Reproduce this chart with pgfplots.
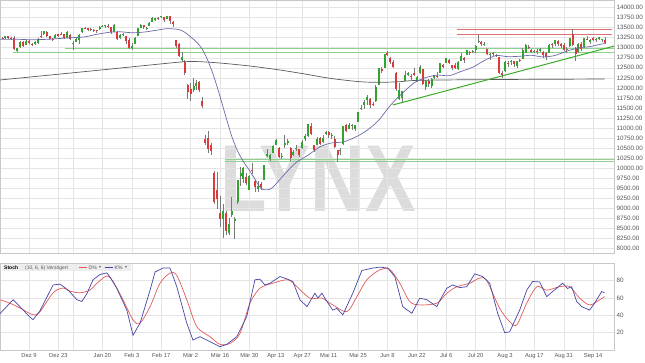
\documentclass[border=0pt]{standalone}
\usepackage{pgfplots}
\pgfplotsset{compat=1.18}
\usepackage{pgfplotstable}
\usepackage{fontspec}
\setmainfont{Liberation Sans}
\newfontfamily\symfont{DejaVu Sans}

\definecolor{upc}{HTML}{2FA52F}
\definecolor{dnc}{HTML}{DC3A3A}
\definecolor{wick}{HTML}{7A7A7A}
\definecolor{gridc}{HTML}{E4E4E4}
\definecolor{framec}{HTML}{C8C8C8}
\definecolor{smac}{HTML}{6A6AA8}
\definecolor{ma200}{HTML}{5A5A5A}
\definecolor{levelg}{HTML}{8FD08F}
\definecolor{trendg}{HTML}{3DAA2A}
\definecolor{levelr}{HTML}{E07070}
\definecolor{kline}{HTML}{4545A5}
\definecolor{dline}{HTML}{E25A5A}
\definecolor{labelc}{HTML}{555555}
\definecolor{wm}{HTML}{DCDCDC}

% daily candles (trading-day index, open, high, low, close), rising days
\pgfplotstableread{
i o h l c
-8 13240 13300 13220 13287
-4 12920 13000 12888 12989
-3 13010 13160 13000 13140
-1 13070 13200 13060 13166
2 13080 13160 13060 13141
3 13120 13230 13100 13222
5 13330 13425 13320 13407
9 13240 13330 13230 13319
13 13250 13410 13240 13386
15 13090 13160 12950 13127
16 13150 13250 13140 13227
17 13200 13340 13100 13321
18 13380 13500 13370 13495
24 13460 13530 13450 13526
25 13530 13560 13510 13549
26 13530 13570 13490 13556
29 13400 13590 13390 13577
31 13230 13330 13210 13324
32 13330 13375 13300 13345
35 13000 13110 12950 13045
36 13100 13260 13080 13250
37 13300 13490 13290 13479
38 13500 13580 13490 13575
40 13480 13505 13450 13494
41 13540 13640 13530 13627
42 13640 13755 13630 13750
43 13700 13750 13660 13745
45 13760 13790 13740 13783
47 13720 13795 13715 13789
52 12700 12890 12650 12775
56 11940 12240 11900 12039
57 12040 12200 11950 12128
66 8740 9120 8255 8939
68 8400 8770 8350 8610
69 8840 9280 8800 8929
70 8700 8790 8250 8742
71 9170 9710 9120 9701
72 9800 10030 9550 9874
73 9740 10040 9640 10000
75 9470 9830 9460 9816
78 9480 9690 9420 9571
80 9720 10080 9700 10075
81 10300 10480 10270 10356
82 10240 10350 10170 10333
83 10380 10570 10370 10565
84 10580 10720 10570 10697
86 10270 10380 10220 10301
87 10570 10820 10500 10626
88 10630 10730 10570 10676
90 10330 10450 10300 10416
91 10470 10570 10430 10514
93 10500 10700 10470 10659
94 10720 10860 10680 10796
95 10800 11110 10790 11108
98 10580 10780 10570 10730
100 10650 10820 10640 10759
101 10850 10920 10820 10905
103 10810 10880 10740 10820
106 10420 10500 10340 10465
107 10600 11060 10590 11058
109 10990 11120 10980 11075
110 11060 11100 10950 11066
111 10990 11080 10930 11074
112 11160 11400 11150 11391
113 11470 11580 11460 11504
114 11570 11700 11480 11657
115 11700 11820 11580 11781
118 11680 12060 11660 12021
119 12080 12490 12070 12487
121 12500 12850 12490 12848
126 11730 12130 11700 11949
127 11750 11920 11630 11911
128 12170 12430 12160 12315
129 12330 12400 12300 12382
132 12200 12290 12140 12262
133 12360 12560 12350 12523
135 12030 12190 11940 12178
137 12050 12240 11990 12232
138 12240 12330 12230 12311
140 12370 12620 12360 12608
142 12620 12750 12610 12734
146 12480 12660 12450 12633
147 12680 12860 12670 12800
149 12830 12940 12820 12931
151 12910 12950 12870 12920
152 12950 13060 12870 13046
153 13130 13310 13120 13171
155 13080 13150 13050 13103
157 12810 12860 12700 12839
159 12800 12850 12760 12822
162 12420 12670 12400 12647
164 12650 12700 12580 12660
166 12540 12680 12490 12674
168 12730 13000 12720 12947
169 12880 13080 12870 13058
172 12900 12950 12870 12920
174 12910 13000 12890 12977
177 12880 13090 12870 13067
179 13080 13200 13050 13190
183 12950 13020 12860 12974
184 13040 13250 13020 13243
187 12900 13110 12880 13100
189 13030 13250 12990 13237
191 13140 13220 13080 13203
193 13180 13240 13130 13218
194 13220 13270 13180 13255
195 13200 13220 13130 13208
}\upcandles

% falling days
\pgfplotstableread{
i o h l c
-9 13250 13270 13205 13236
-7 13280 13300 13225 13245
-6 13250 13265 13180 13236
-5 13250 13280 12960 12965
-2 13140 13155 13045 13055
0 13170 13190 13090 13105
1 13095 13110 13040 13071
4 13300 13425 13230 13283
6 13400 13410 13270 13288
7 13290 13300 13200 13222
8 13215 13240 13170 13212
10 13330 13335 13285 13300
11 13340 13395 13325 13337
12 13340 13345 13240 13249
14 13315 13330 13190 13219
19 13500 13520 13460 13483
20 13490 13495 13420 13452
21 13460 13480 13420 13457
22 13440 13460 13380 13432
23 13440 13450 13370 13430
27 13540 13590 13500 13515
28 13510 13520 13330 13389
30 13400 13410 13180 13205
33 13290 13300 13100 13158
34 13200 13235 12970 12982
39 13560 13565 13470 13514
44 13750 13770 13700 13745
46 13760 13770 13640 13681
48 13780 13800 13600 13665
49 13650 13660 13520 13579
50 13190 13200 13000 13035
51 13080 13120 12770 12790
53 12650 12700 12330 12367
54 12080 12100 11725 11890
55 11970 12120 11670 11857
58 12150 12170 11900 11944
59 11680 11780 11500 11542
60 10740 10830 10580 10625
61 10760 10940 10370 10475
62 10570 10620 10320 10439
63 9880 9940 9120 9161
64 9450 9920 9000 9232
65 8900 9300 8550 8742
67 8900 8950 8340 8442
74 9780 9880 9580 9633
76 9960 10120 9870 9936
77 9690 9700 9410 9544
79 9610 9650 9450 9525
85 10500 10530 10250 10280
89 10500 10520 10190 10250
92 10470 10480 10280 10336
96 11050 11120 10840 10862
97 10570 10580 10400 10467
99 10760 10770 10580 10606
102 10910 10940 10760 10825
104 10730 10810 10500 10542
105 10450 10460 10160 10338
108 11080 11090 10900 10939
116 11720 11760 11500 11587
117 11600 11650 11550 11586
120 12460 12530 12360 12431
122 12880 12910 12800 12820
123 12750 12760 12600 12642
124 12640 12700 12500 12530
125 12380 12400 11930 11970
130 12300 12340 12190 12281
131 12380 12500 12300 12331
134 12460 12480 12070 12094
136 12160 12210 12030 12089
139 12300 12400 12240 12260
141 12580 12600 12490 12528
143 12700 12720 12590 12617
144 12570 12580 12440 12495
145 12560 12630 12470 12489
148 12740 12760 12620 12697
150 12890 12930 12830 12875
154 13150 13160 13050 13104
156 12960 12980 12810 12838
158 12860 12890 12800 12836
160 12760 12770 12350 12379
161 12380 12430 12250 12313
163 12620 12660 12530 12601
165 12660 12680 12520 12592
167 12690 12730 12640 12687
170 13030 13060 12960 12994
171 12950 12960 12860 12901
173 12930 12960 12840 12882
175 12890 12910 12750 12830
176 12870 12890 12690 12764
178 13100 13110 13000 13062
180 13170 13200 13040 13096
181 13080 13110 13000 13033
182 13070 13120 12940 12945
185 13340 13460 13050 13057
186 13000 13020 12660 12842
188 13080 13130 12920 12968
190 13220 13300 13200 13209
192 13250 13270 13160 13194
196 13200 13260 13080 13116
}\downcandles

\pgfplotsset{
  chartpane/.style={
    scale only axis, width=614pt,
    xmin=-9.87, xmax=199.1,
    axis line style={draw=framec, line width=0.5pt},
    grid=major, grid style={draw=gridc, line width=0.5pt},
    tick style={draw=none},
    xtick={0,10,15,25,35,45,55,65,75,84,93,102,112,122,132,142,152,162,172,182,192},
    yticklabel pos=right,
    scaled y ticks=false,
    y tick label style={anchor=west, xshift=-1pt, font=\fontsize{6.3}{7}\selectfont, text=labelc},
    x tick label style={font=\fontsize{5.8}{7}\selectfont, text=labelc},
    /pgf/number format/assume math mode=true,
  },
  wicks/.style={draw=none, mark=none, forget plot,
    error bars/.cd, y dir=both, y explicit, error mark=none,
    error bar style={draw=wick, line width=0.5pt}},
  bodies/.style={draw=none, mark=none, forget plot,
    error bars/.cd, y dir=plus, y explicit, error mark=none,
    error bar style={draw=#1, line width=2pt}},
}

\begin{document}
\begin{tikzpicture}
% watermark behind the price pane
\node[text=wm, font=\fontsize{95}{95}\selectfont\bfseries, xscale=0.8, inner sep=0pt] at (318pt,-179pt) {LYNX};

\begin{axis}[chartpane, at={(0pt,0pt)}, anchor=north west, height=253pt,
  ymin=7893, ymax=14187, ytick={8000,8250,...,14000}, xticklabels={},
  y tick label style={/pgf/number format/.cd, fixed, fixed zerofill, precision=2, 1000 sep={}}]

% horizontal support / resistance levels
\addplot[levelg, line width=0.8pt] coordinates {(-5.4,12893) (199.1,12893)};
\addplot[levelg, line width=0.8pt] coordinates {(12.2,12975) (199.1,12975)};
\addplot[levelg, line width=0.8pt] coordinates {(66.7,10230) (199.1,10230)};
\addplot[levelg, line width=0.8pt] coordinates {(66.7,10160) (199.1,10160)};
\addplot[levelr, line width=0.8pt] coordinates {(145.8,13465) (198.3,13465)};
\addplot[levelr, line width=0.8pt] coordinates {(145.8,13333) (198.3,13333)};

% candles
\addplot[wicks] table[x=i, y=c, y error plus expr=\thisrow{h}-\thisrow{c}, y error minus expr=\thisrow{c}-\thisrow{l}] {\upcandles};
\addplot[wicks] table[x=i, y=c, y error plus expr=\thisrow{h}-\thisrow{c}, y error minus expr=\thisrow{c}-\thisrow{l}] {\downcandles};
\addplot[bodies=upc] table[x=i, y=o, y error plus expr=\thisrow{c}-\thisrow{o}] {\upcandles};
\addplot[bodies=dnc] table[x=i, y=c, y error plus expr=\thisrow{o}-\thisrow{c}] {\downcandles};

% 200-day average
\addplot[ma200, line width=0.7pt, smooth] coordinates {
(-9.87,12197) (21.4,12423) (41.2,12570) (53,12652) (58.2,12652) (65,12619)
(75.2,12545) (85.4,12445) (93.9,12346) (102.4,12239) (112.6,12154) (119.4,12139)
(126.2,12154) (133,12189) (160.2,12209) (195.9,12221)};

% 20-day average
\addplot[smac, line width=0.7pt, smooth] coordinates {
(-9.87,13209) (-5,13212) (0,13200) (5,13205) (10,13228) (15,13250) (19,13271)
(23,13332) (27,13380) (31,13396) (35,13373) (39,13388) (43,13430) (47,13473)
(51,13452) (53,13384) (55,13270) (57,13141) (59,12961) (61,12660) (63,12265)
(65,11788) (67,11283) (69,10798) (71,10429) (73,10166) (75,9951) (77,9716)
(79,9497) (81,9463) (83,9528) (87,9856) (91,10149) (95,10328) (99,10533)
(103,10632) (107,10657) (111,10772) (115,10943) (119,11194) (123,11566)
(127,11863) (131,12121) (135,12257) (139,12318) (143,12305) (147,12408)
(151,12514) (155,12682) (159,12804) (163,12777) (167,12787) (171,12811)
(175,12770) (179,12807) (183,12913) (187,12994) (191,13030) (195,13093) (196,13100)};

% rising trend line
\addplot[trendg, line width=1pt] coordinates {(123.8,11575) (199.1,13040)};
\end{axis}

\begin{axis}[chartpane, at={(0pt,-263.3pt)}, anchor=north west, height=86.7pt,
  ymin=0, ymax=100, ytick={20,40,60,80},
  xticklabels={Dez 9,Dez 23,,Jan 20,Feb 3,Feb 17,Mär 2,Mär 16,Mär 30,Apr 13,Apr 27,Mai 11,Mai 25,Jun 8,Jun 22,Jul 6,Jul 20,Aug 3,Aug 17,Aug 31,Sep 14}]

% %D line
\addplot[dline, line width=0.7pt, smooth] coordinates {
(-9.87,58) (-6.5,54) (-3.1,48.5) (1.4,40.5) (3.7,44) (8.2,66) (11.6,71.5) (13.9,68)
(17.3,66) (20.7,69) (23.1,77) (26.5,85.5) (28.6,79) (32,58) (35.4,34.7) (37.8,31)
(41.2,50) (44.6,77) (48,88.7) (50.3,86) (53.7,58) (57.1,27) (61.6,15.4) (65,6.5)
(68.4,7.7) (71.8,19) (75.2,54) (78.6,71.3) (83,77) (88.1,81) (91.2,73) (95.6,59.8)
(99.7,59.8) (103.4,52) (108.2,44.3) (111.6,61.6) (115,81) (119.4,92.5) (122.8,93)
(126.2,77) (129.6,55.8) (133,52) (138.8,54) (142.2,65.5) (145.6,73) (150,77)
(153.4,83) (155.8,80) (160.2,48) (163.6,32.7) (166,29) (169.4,54) (172.8,73)
(176.2,69) (180.6,73) (184,73) (187.4,59.8) (190.8,52) (194.2,57.8) (195.9,61.6)};

% %K line
\addplot[kline, line width=0.7pt] coordinates {
(-9.87,42) (-5.4,58) (-3.1,50) (0.3,38) (1.4,35) (3.7,45) (8.2,75) (10.5,76)
(12.2,72) (13.9,67) (16.3,58) (18,56) (19.7,65) (21.8,81) (24.1,87) (26.5,89)
(27.6,84) (29.9,71) (33.3,46) (35.4,17) (37.8,31) (41.2,69) (42.9,90) (45.6,94.5)
(48,94.5) (50.3,73) (53.7,31) (55.8,11.5) (58.2,15.4) (60.5,11.5) (65,3.8) (67.3,6.5)
(70.7,15.4) (74.1,38.5) (76.9,81) (78.6,81.7) (80.3,75) (82,77) (85.4,84.7) (87.8,82)
(89.8,79) (92.2,58) (94.6,50) (97.3,65.5) (98.3,60) (99.7,65.5) (101.4,56) (103.4,46)
(104.8,48) (106.8,40.5) (110.2,65.5) (113.3,91.7) (117,94.5) (119.4,95.6) (122.1,94.5)
(124.5,84.7) (127.2,50) (130.3,42.4) (133,59.8) (135.4,58) (138.8,50) (139.8,57)
(142.2,71.3) (144.2,75) (146.6,72) (149,73) (151.7,87.9) (154.4,84.7) (156.8,77)
(159.5,42.4) (161.9,20) (163.6,21) (167,46) (169.4,69) (171.4,79) (173.8,78.5)
(176.2,61.6) (178.2,67.4) (181.6,77) (183.3,71) (184.7,73) (186.4,55.8) (188.1,50)
(190.8,46) (192.5,54) (194.9,67.4) (195.9,66)};
\end{axis}

% indicator caption strip
\fill[gray!14] (2pt,-264.3pt) rectangle (131pt,-271.3pt);
\node[anchor=west, inner sep=0pt, font=\fontsize{5}{5}\selectfont\bfseries] at (4pt,-267.8pt) {Stoch};
\node[anchor=west, inner sep=0pt, font=\fontsize{5}{5}\selectfont, text=labelc] at (25pt,-267.8pt) {(10, 6, 6) Verzögert};
\draw[dline, line width=0.8pt] (79pt,-267.8pt) -- (87pt,-267.8pt);
\node[anchor=west, inner sep=0pt, font=\fontsize{5}{5}\selectfont, text=labelc] at (88.5pt,-267.8pt) {D\%};
\node[anchor=west, inner sep=0pt, font=\fontsize{4}{4}\symfont, text=labelc] at (99pt,-267.8pt) {▾};
\draw[kline, line width=0.8pt] (105pt,-267.8pt) -- (113pt,-267.8pt);
\node[anchor=west, inner sep=0pt, font=\fontsize{5}{5}\selectfont, text=labelc] at (114.5pt,-267.8pt) {K\%};
\node[anchor=west, inner sep=0pt, font=\fontsize{4}{4}\symfont, text=labelc] at (125pt,-267.8pt) {▾};

\pgfresetboundingbox
\useasboundingbox (0pt,0pt) rectangle (645pt,-363pt);
\end{tikzpicture}
\end{document}
